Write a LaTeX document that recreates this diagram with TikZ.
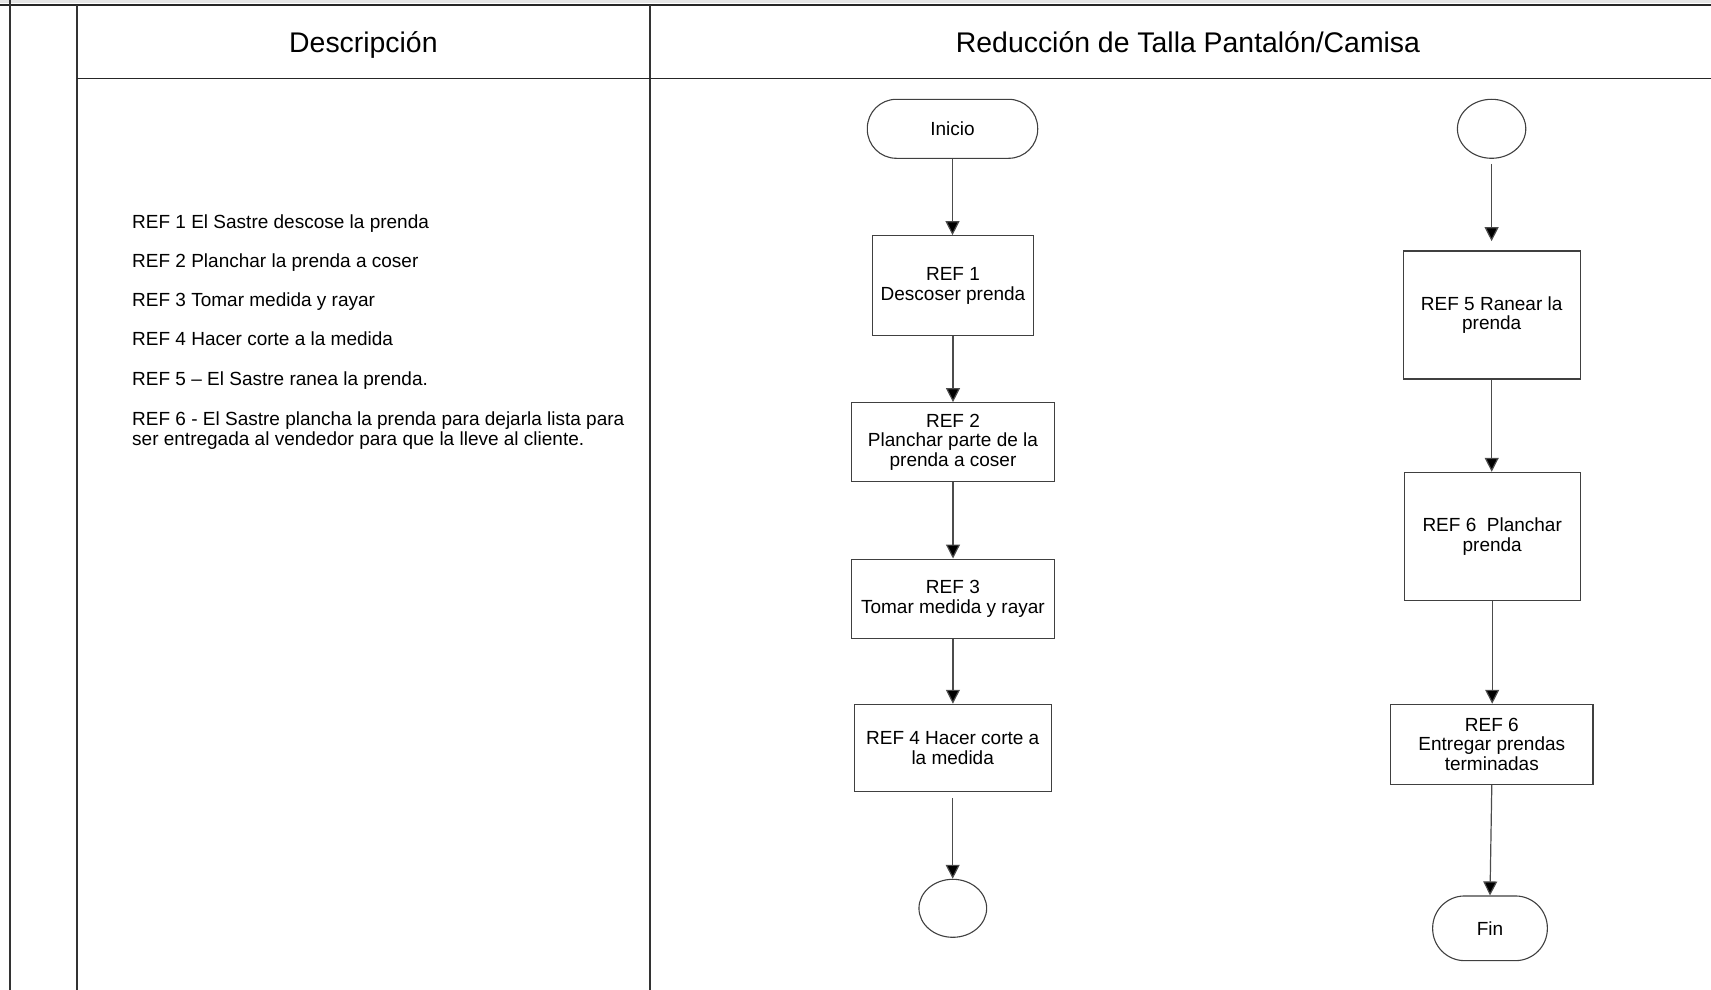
\documentclass[tikz,border=0pt]{standalone}
\usepackage{fontspec}
\setmainfont{Liberation Sans}
\usetikzlibrary{arrows.meta,shapes.geometric}
\begin{document}
\begin{tikzpicture}[x=1pt,y=-1pt,
  vline/.style={line width=2pt, draw=black!80},
  hline/.style={line width=1.5pt, draw=black!85},
  txt/.style={font=\fontsize{19}{19.8}\selectfont, inner sep=0pt},
  head/.style={font=\fontsize{28.4}{32}\selectfont, inner sep=0pt},
  desc/.style={txt, anchor=base west, align=left},
  proc/.style={txt, draw=black!75, line width=1.1pt, fill=white, align=center},
  term/.style={proc, rounded corners=29pt},
  conn/.style={proc, ellipse},
  flow/.style={draw=black!70, line width=1.2pt, -{Triangle[length=14pt,width=14pt,fill=black]}},
]
\useasboundingbox (0,0) rectangle (1711,990);

% table frame
\fill[black!10] (0,0) rectangle (1711,3.5);
\draw[hline] (0,5) -- (1711,5);
\draw[vline] (10,0) -- (10,990);
\draw[vline] (76.7,5) -- (76.7,990);
\draw[vline] (650,5) -- (650,990);
\draw[hline] (76.7,78.6) -- (1711,78.6);

% column headings
\node[head] (hdesc) at (363.4,45) {Descripción};
\node[head] (hproc) at (1188,42) {Reducción de Talla Pantalón/Camisa};

% description column
\node[desc] (d1) at (132,228) {REF 1 El Sastre descose la prenda};
\node[desc] (d2) at (132,267.3) {REF 2 Planchar la prenda a coser};
\node[desc] (d3) at (132,306.6) {REF 3 Tomar medida y rayar};
\node[desc] (d4) at (132,345.9) {REF 4 Hacer corte a la medida};
\node[desc] (d5) at (132,385.1) {REF 5 – El Sastre ranea la prenda.};
\node[desc] (d6) at (132,445.2) {REF 6 - El Sastre plancha la prenda para dejarla lista para\\ser entregada al vendedor para que la lleve al cliente.};

% first flow
\node[term, minimum width=170.4pt, minimum height=59pt] (inicio) at (952.5,128.8) {Inicio};
\node[proc, minimum width=161.4pt, minimum height=100pt] (r1) at (953,285.7) {REF 1\\Descoser prenda};
\node[proc, minimum width=202.6pt, minimum height=79pt] (r2) at (953,442.2) {REF 2\\Planchar parte de la\\prenda a coser};
\node[proc, minimum width=202.3pt, minimum height=79.7pt] (r3) at (952.9,598.9) {REF 3\\Tomar medida y rayar};
\node[proc, minimum width=197.3pt, minimum height=87.4pt] (r4) at (952.7,748) {REF 4 Hacer corte a\\la medida};
\node[conn, minimum width=67.7pt, minimum height=58pt] (c1) at (952.8,908.3) {};

\draw[flow] (inicio.south) -- (inicio.south |- r1.north);
\draw[flow] (r1.south) -- (r1.south |- r2.north);
\draw[flow] (r2.south) -- (r2.south |- r3.north);
\draw[flow] (r3.south) -- (r3.south |- r4.north);
\draw[flow, shorten <=6pt] (r4.south) -- (r4.south |- c1.north);

% second flow
\node[conn, minimum width=68.4pt, minimum height=59pt] (c2) at (1491.6,128.8) {};
\node[proc, minimum width=176.7pt, minimum height=128pt] (r5) at (1491.7,315) {REF 5 Ranear la\\prenda};
\node[proc, minimum width=176.3pt, minimum height=127.7pt] (r6) at (1492.2,536.2) {REF 6\ \ Planchar\\prenda};
\node[proc, minimum width=202.3pt, minimum height=80pt] (r7) at (1491.8,744.3) {REF 6\\Entregar prendas\\terminadas};
\node[term, minimum width=114.7pt, minimum height=64.7pt, rounded corners=32pt] (fin) at (1490,928.3) {Fin};

\draw[flow, shorten <=5pt, shorten >=9.3pt] (c2.south) -- (c2.south |- r5.north);
\draw[flow] (r5.south) -- (r5.south |- r6.north);
\draw[flow] (r6.south) -- (r6.south |- r7.north);
\draw[flow] (r7.south) -- (fin.north);
\end{tikzpicture}
\end{document}
